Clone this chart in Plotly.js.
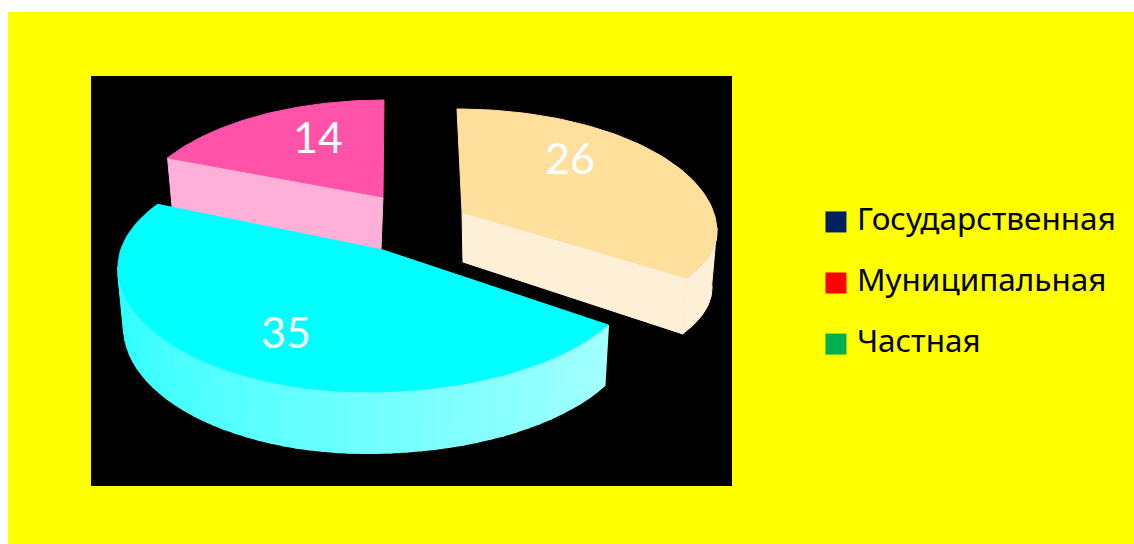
<!DOCTYPE html>
<html><head><meta charset="utf-8">
<script src="https://cdn.plot.ly/plotly-3.0.1.min.js"></script>
<style>html,body{margin:0;padding:0;background:#fff}#c{width:1134px;height:544px}</style></head>
<body><div id="c"></div>
<script>
// ---- data ----
var sliceValues = [26, 35, 14];
var legendLabels = ['Государственная', 'Муниципальная', 'Частная'];
var legendColors = ['#002060', '#FF0000', '#00B050'];

// ---- view of the tilted disc, one entry per slice (order as sliceValues) ----
var views = [
  {top:'#FEDF9C', wall:'#FDF0D6', apex:[462,212], c:[457,232], rxR:260, rxL:260, far:123, near:98, t0:0, f:0.945,
   bottom:{apex:[463,262], c:[460,288], rxR:252, rxL:252, far:123, near:98}, cut:'end', rimTo:88, label:[570,163]},
  {top:'#00FFFF', wallFrom:[40,255,255], wallTo:[165,255,255], apex:[383,250], c:[367,267], rxR:272, rxL:249, far:116, near:125, t0:117.6, f:1.102,
   bottom:{apex:[383,300], c:[367,327], rxR:268, rxL:243, far:116, near:126}, cut:null, rimTo:270, label:[286,337]},
  {top:'#FF52A8', wall:'#FFB0D8', apex:[383,197], c:[384,220], rxR:253, rxL:253, far:120, near:120, t0:301.2, f:0.875,
   bottom:{apex:[381,250], c:[386,270], rxR:250, rxL:250, far:120, near:120}, cut:'start', rimTo:null, label:[318,142]}
];
var drawOrder = [2, 0, 1];

function pt(g, tDeg) {
  var t = tDeg * Math.PI / 180, s = Math.sin(t), k = Math.cos(t);
  return [g.c[0] + (s >= 0 ? g.rxR : g.rxL) * s, g.c[1] - (k >= 0 ? g.far : g.near) * k];
}
function range(a, b, n) { var r = []; for (var i = 0; i <= n; i++) r.push(a + (b - a) * i / n); return r; }
function poly(points, color, w) {
  return {type:'scatter', mode:'lines', xaxis:'x', yaxis:'y', x:points.map(function(p){return p[0];}), y:points.map(function(p){return p[1];}),
          fill:'toself', fillcolor:color, line:{color:color, width:w || 1}, hoverinfo:'skip', showlegend:false};
}
function mix(a, b, w) { return 'rgb(' + a.map(function(v, i){ return Math.round(v + (b[i] - v) * w); }).join(',') + ')'; }

var total = sliceValues.reduce(function(a, b){ return a + b; }, 0);

var traces = [];
drawOrder.forEach(function(i) {
  var v = views[i], sweep = sliceValues[i] / total * 360;
  var tA = v.t0, tB = v.t0 + v.f * sweep;
  var arc = range(tA, tB, 80);
  if (v.cut) {
    var tc = v.cut === 'end' ? tB : tA;
    traces.push(poly([v.apex, pt(v, tc), pt(v.bottom, tc), v.bottom.apex, v.apex], v.wall));
  }
  if (v.rimTo !== null) {
    var n = v.wallFrom ? 48 : 1;
    var lo, hi;
    if (v.cut === 'end') { lo = v.rimTo; hi = tB; } else { lo = tA; hi = v.rimTo; }
    for (var j = 0; j < n; j++) {
      var a = lo + (hi - lo) * j / n, b = lo + (hi - lo) * (j + 1) / n;
      var ts = range(a, b, v.wallFrom ? 3 : 30);
      var pts = ts.map(function(t){ return pt(v, t); }).concat(ts.slice().reverse().map(function(t){ return pt(v.bottom, t); }));
      pts.push(pts[0]);
      traces.push(poly(pts, v.wallFrom ? mix(v.wallTo, v.wallFrom, (j + 0.5) / n) : v.wall, v.wallFrom ? 2 : 1));
    }
  }
  var face = [v.apex].concat(arc.map(function(t){ return pt(v, t); }));
  face.push(v.apex);
  traces.push(poly(face, v.top));
});

traces.push({type:'scatter', mode:'text', xaxis:'x', yaxis:'y',
  x:views.map(function(v){return v.label[0];}), y:views.map(function(v){return v.label[1];}),
  text:sliceValues.map(String), textposition:'middle center',
  textfont:{family:'Lato, "Open Sans", sans-serif', size:43, color:'#FFFFFF', weight:400},
  hoverinfo:'skip', showlegend:false});

var legendRows = [0, 1, 2];
traces.push({type:'scatter', mode:'markers', xaxis:'x2', yaxis:'y2',
  x:legendRows.map(function(){return 0;}), y:legendRows,
  marker:{symbol:'square', size:21, color:legendColors}, hoverinfo:'skip', showlegend:false});
traces.push({type:'scatter', mode:'text', xaxis:'x2', yaxis:'y2',
  x:legendRows.map(function(){return 0.91;}), y:legendRows,
  text:legendLabels, textposition:'middle right',
  textfont:{family:'"Noto Sans", sans-serif', size:31.5, color:'#000000'},
  hoverinfo:'skip', showlegend:false});

var W = 1134, H = 544;
var hidden = {visible:false, fixedrange:true};
var layout = {
  width:W, height:H, margin:{l:0, r:0, t:0, b:0}, autosize:false, showlegend:false,
  paper_bgcolor:'#FFFFFF', plot_bgcolor:'rgba(0,0,0,0)',
  xaxis:Object.assign({domain:[91/W, 732/W], range:[91, 732]}, hidden),
  yaxis:Object.assign({domain:[1-486/H, 1-76/H], range:[486, 76]}, hidden),
  xaxis2:Object.assign({domain:[804/W, 1134/W], range:[-1.39, 12.96]}, hidden),
  yaxis2:Object.assign({domain:[1-374/H, 1-192/H], range:[2.49, -0.49]}, hidden),
  shapes:[
    {type:'rect', xref:'paper', yref:'paper', x0:8/W, x1:1, y0:0, y1:1-12/H, fillcolor:'#FFFF00', line:{width:0}, layer:'below'},
    {type:'rect', xref:'paper', yref:'paper', x0:91/W, x1:732/W, y0:1-486/H, y1:1-76/H, fillcolor:'#000000', line:{width:0}, layer:'below'}
  ]
};
Plotly.newPlot('c', traces, layout, {displayModeBar:false, staticPlot:true});
</script></body></html>
